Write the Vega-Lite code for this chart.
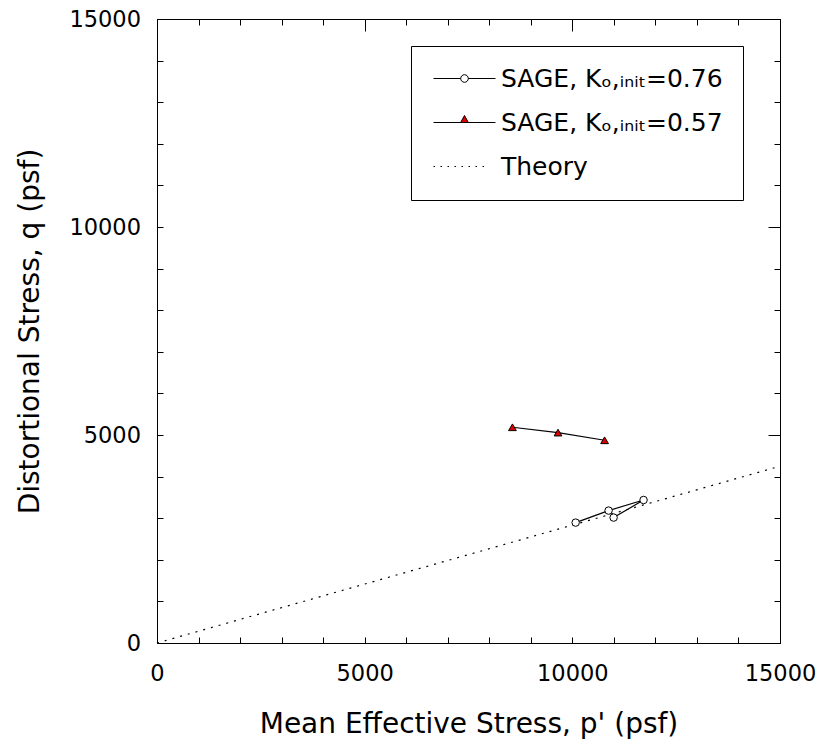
{
  "$schema": "https://vega.github.io/schema/vega-lite/v6.json",
  "width": 623,
  "height": 624,
  "autosize": {"type": "none"},
  "padding": {"left": 157, "top": 19, "right": 43, "bottom": 108},
  "config": {
    "font": "DejaVu Sans",
    "view": {"stroke": null},
    "legend": {"strokeWidth": 1}
  },
  "data": {
    "values": [
      {"series": "SAGE, Kₒ,ᵢₙᵢₜ=0.76", "p": 10080, "q": 2894, "i": 1},
      {"series": "SAGE, Kₒ,ᵢₙᵢₜ=0.76", "p": 10873, "q": 3183, "i": 2},
      {"series": "SAGE, Kₒ,ᵢₙᵢₜ=0.76", "p": 11715, "q": 3438, "i": 3},
      {"series": "SAGE, Kₒ,ᵢₙᵢₜ=0.76", "p": 10994, "q": 3015, "i": 4},
      {"series": "SAGE, Kₒ,ᵢₙᵢₜ=0.57", "p": 8558, "q": 5186, "i": 1},
      {"series": "SAGE, Kₒ,ᵢₙᵢₜ=0.57", "p": 9655, "q": 5058, "i": 2},
      {"series": "SAGE, Kₒ,ᵢₙᵢₜ=0.57", "p": 10777, "q": 4873, "i": 3},
      {"series": "Theory", "p": 0, "q": 0, "i": 1},
      {"series": "Theory", "p": 15000, "q": 4250, "i": 2}
    ]
  },
  "layer": [
    {
      "transform": [{"filter": "datum.series === 'Theory'"}],
      "mark": {"type": "line", "color": "black", "strokeWidth": 1.2, "strokeDash": [2, 6]},
      "encoding": {
        "x": {
          "field": "p", "type": "quantitative",
          "scale": {"domain": [0, 15000], "nice": false},
          "axis": {
            "orient": "bottom",
            "values": [0,1000,2000,3000,4000,5000,6000,7000,8000,9000,10000,11000,12000,13000,14000,15000],
            "format": "d",
            "labelExpr": "datum.value % 5000 === 0 ? datum.label : ''",
            "labelFlush": false,
            "labelOverlap": false,
            "grid": false,
            "tickSize": -6,
            "tickColor": "black",
            "domainColor": "black",
            "labelFontSize": 22.5,
            "labelColor": "black",
            "labelPadding": 25,
            "title": "Mean Effective Stress, p' (psf)",
            "titleFontSize": 28,
            "titleFontWeight": "normal",
            "titleColor": "black",
            "titlePadding": 26
          }
        },
        "y": {
          "field": "q", "type": "quantitative",
          "scale": {"domain": [0, 15000], "nice": false},
          "axis": {
            "orient": "left",
            "values": [0,1000,2000,3000,4000,5000,6000,7000,8000,9000,10000,11000,12000,13000,14000,15000],
            "format": "d",
            "labelExpr": "datum.value % 5000 === 0 ? datum.label : ''",
            "labelFlush": false,
            "labelOverlap": false,
            "grid": false,
            "tickSize": -6,
            "tickColor": "black",
            "domainColor": "black",
            "labelFontSize": 22.5,
            "labelColor": "black",
            "labelPadding": 22.5,
            "title": "Distortional Stress, q (psf)",
            "titleFontSize": 28,
            "titleFontWeight": "normal",
            "titleColor": "black",
            "titlePadding": 24
          }
        }
      }
    },
    {
      "transform": [{"filter": "datum.series !== 'Theory'"}],
      "mark": {"type": "line", "color": "black", "strokeWidth": 1.2},
      "encoding": {
        "x": {
          "field": "p", "type": "quantitative",
          "axis": {
            "orient": "top",
            "values": [0,1000,2000,3000,4000,5000,6000,7000,8000,9000,10000,11000,12000,13000,14000,15000],
            "labels": false, "grid": false, "title": null,
            "tickSize": -6, "tickColor": "black", "domainColor": "black"
          }
        },
        "y": {
          "field": "q", "type": "quantitative",
          "axis": {
            "orient": "right",
            "values": [0,1000,2000,3000,4000,5000,6000,7000,8000,9000,10000,11000,12000,13000,14000,15000],
            "labels": false, "grid": false, "title": null,
            "tickSize": -6, "tickColor": "black", "domainColor": "black"
          }
        },
        "detail": {"field": "series"},
        "order": {"field": "i", "type": "quantitative"}
      }
    },
    {
      "transform": [{"filter": "datum.series === 'SAGE, Kₒ,ᵢₙᵢₜ=0.76'"}],
      "mark": {"type": "point", "shape": "circle", "filled": true, "fill": "white", "stroke": "black", "strokeWidth": 1, "size": 56, "opacity": 1},
      "encoding": {
        "x": {
          "field": "p", "type": "quantitative",
          "axis": {
            "orient": "top",
            "values": [0, 5000, 10000, 15000],
            "labels": false, "grid": false, "title": null, "domain": false,
            "tickSize": -12, "tickColor": "black"
          }
        },
        "y": {
          "field": "q", "type": "quantitative",
          "axis": {
            "orient": "right",
            "values": [0, 5000, 10000, 15000],
            "labels": false, "grid": false, "title": null, "domain": false,
            "tickSize": -12, "tickColor": "black"
          }
        }
      }
    },
    {
      "transform": [{"filter": "datum.series === 'SAGE, Kₒ,ᵢₙᵢₜ=0.57'"}],
      "mark": {"type": "point", "shape": "triangle-up", "filled": true, "fill": "#dd0000", "stroke": "black", "strokeWidth": 1, "size": 60, "opacity": 1},
      "encoding": {
        "x": {"field": "p", "type": "quantitative", "axis": null},
        "y": {"field": "q", "type": "quantitative", "axis": null}
      }
    },
    {
      "transform": [{"filter": "false"}],
      "mark": {"type": "point", "filled": false, "strokeWidth": 1, "opacity": 1},
      "encoding": {
        "shape": {
          "field": "series", "type": "nominal",
          "scale": {
            "domain": ["SAGE, Kₒ,ᵢₙᵢₜ=0.76", "SAGE, Kₒ,ᵢₙᵢₜ=0.57", "Theory"],
            "range": [
              "M2.1,-1.75M-1,0H1.72M2.48,0H5.2M2.48,0A0.38,0.38,0,1,1,1.72,0A0.38,0.38,0,1,1,2.48,0Z",
              "M2.1,-1.75M-1,0H5.2M1.715,0L2.1,-0.7L2.485,0Z",
              "M2.1,-1.75M-1,0H-0.85M-0.3,0H-0.15M0.4,0H0.55M1.1,0H1.25M1.8,0H1.95M2.5,0H2.65M3.2,0H3.35M3.9,0H4.05"
            ]
          },
          "legend": {
            "orient": "none", "legendX": 254, "legendY": 27, "title": null,
            "symbolSize": 400, "labelFontSize": 25, "labelColor": "black", "labelOffset": 45,
            "rowPadding": 11, "padding": 20, "strokeColor": "black", "fillColor": "white",
            "symbolStrokeWidth": 1, "labelLimit": 500
          }
        },
        "fill": {
          "field": "series", "type": "nominal",
          "scale": {
            "domain": ["SAGE, Kₒ,ᵢₙᵢₜ=0.76", "SAGE, Kₒ,ᵢₙᵢₜ=0.57", "Theory"],
            "range": ["white", "#dd0000", "transparent"]
          },
          "legend": {
            "orient": "none", "legendX": 254, "legendY": 27, "title": null,
            "symbolSize": 400, "labelFontSize": 25, "labelColor": "black", "labelOffset": 45,
            "rowPadding": 11, "padding": 20, "strokeColor": "black", "fillColor": "white",
            "symbolStrokeWidth": 1, "labelLimit": 500
          }
        },
        "stroke": {
          "field": "series", "type": "nominal",
          "scale": {
            "domain": ["SAGE, Kₒ,ᵢₙᵢₜ=0.76", "SAGE, Kₒ,ᵢₙᵢₜ=0.57", "Theory"],
            "range": ["black", "black", "black"]
          },
          "legend": {
            "orient": "none", "legendX": 254, "legendY": 27, "title": null,
            "symbolSize": 400, "labelFontSize": 25, "labelColor": "black", "labelOffset": 45,
            "rowPadding": 11, "padding": 20, "strokeColor": "black", "fillColor": "white",
            "symbolStrokeWidth": 1, "labelLimit": 500
          }
        }
      }
    }
  ],
  "resolve": {"axis": {"x": "independent", "y": "independent"}}
}
